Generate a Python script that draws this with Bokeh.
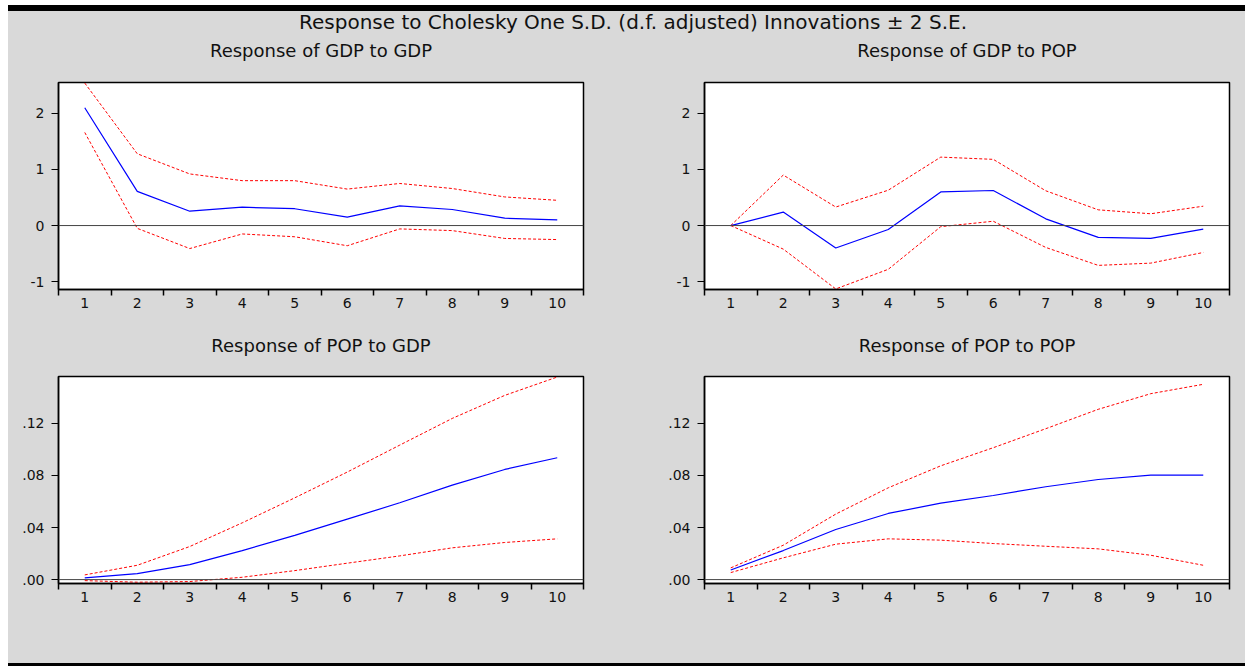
from bokeh.plotting import figure
from bokeh.models import Range1d, FixedTicker, Span, Label, Div, CustomJSTickFormatter
from bokeh.layouts import column, row
from bokeh.embed import file_html
from bokeh.resources import INLINE

# ---------------- data ----------------
periods = [1, 2, 3, 4, 5, 6, 7, 8, 9, 10]

gdp_to_gdp = [2.10, 0.61, 0.256, 0.327, 0.30, 0.149, 0.35, 0.286, 0.131, 0.10]
gdp_to_gdp_hi = [2.54, 1.28, 0.92, 0.80, 0.80, 0.65, 0.75, 0.66, 0.51, 0.45]
gdp_to_gdp_lo = [1.66, -0.05, -0.41, -0.15, -0.20, -0.36, -0.06, -0.09, -0.23, -0.25]

gdp_to_pop = [0.0, 0.24, -0.40, -0.07, 0.60, 0.625, 0.12, -0.21, -0.23, -0.065]
gdp_to_pop_hi = [0.0, 0.90, 0.33, 0.63, 1.22, 1.18, 0.62, 0.28, 0.21, 0.345]
gdp_to_pop_lo = [0.0, -0.42, -1.13, -0.78, -0.02, 0.077, -0.39, -0.71, -0.67, -0.48]

pop_to_gdp = [0.0013, 0.0046, 0.0115, 0.0223, 0.034, 0.0464, 0.059, 0.0726, 0.0846, 0.0936]
pop_to_gdp_hi = [0.0036, 0.011, 0.0254, 0.0436, 0.0628, 0.0826, 0.1033, 0.1238, 0.1415, 0.1556]
pop_to_gdp_lo = [-0.0008, -0.002, -0.0015, 0.0018, 0.0069, 0.0126, 0.0182, 0.0244, 0.0285, 0.0313]

pop_to_pop = [0.0074, 0.0223, 0.0385, 0.0508, 0.0587, 0.0646, 0.0713, 0.0769, 0.0803, 0.0803]
pop_to_pop_hi = [0.009, 0.0264, 0.0503, 0.0705, 0.0874, 0.1013, 0.1159, 0.1308, 0.1428, 0.150]
pop_to_pop_lo = [0.0054, 0.0167, 0.0272, 0.0313, 0.0303, 0.0277, 0.0256, 0.0236, 0.0187, 0.011]

main_title = "Response to Cholesky One S.D. (d.f. adjusted) Innovations \u00b1 2 S.E."
titles = ["Response of GDP to GDP", "Response of GDP to POP",
          "Response of POP to GDP", "Response of POP to POP"]
gdp_yticks = [-1, 0, 1, 2]
pop_yticks = [0.0, 0.04, 0.08, 0.12]

# ---------------- styling ----------------
GREY = "#d9d9d9"
FONT = "DejaVu Sans"
TOTAL_W = 1237
LW, RW = 632, 605
L_LEFT, L_RIGHT = 50, 57
R_LEFT, R_RIGHT = 64, 16
FRAME_W = 525
# title centres (pixels from the left of the layout) = frame centres
L_CX = L_LEFT + FRAME_W / 2
R_CX = LW + R_LEFT + FRAME_W / 2


def band(h):
    b = figure(width=TOTAL_W, height=h, x_range=Range1d(0, TOTAL_W), y_range=Range1d(0, h),
               toolbar_location=None, output_backend="svg",
               x_axis_location=None, y_axis_location=None, min_border=0,
               styles={"background-color": GREY})
    b.outline_line_color = None
    b.background_fill_color = GREY
    b.border_fill_color = GREY
    b.grid.visible = False
    return b


def add_text(b, x, y, txt, size):
    b.add_layout(Label(x=x, y=y, text=txt, text_align="center", text_baseline="middle",
                       text_font=FONT, text_font_size=size, text_color="#111111"))


def panel(resp, lo, hi, yr, yticks, w, left, right, h, top, bottom, dotfmt=False):
    p = figure(width=w, height=h, x_range=Range1d(0.5, 10.5), y_range=Range1d(*yr),
               toolbar_location=None, output_backend="svg",
               min_border_left=left, min_border_right=right,
               min_border_top=top, min_border_bottom=bottom,
               styles={"background-color": GREY})
    p.background_fill_color = "white"
    p.border_fill_color = GREY
    p.outline_line_color = "black"
    p.outline_line_width = 1.5
    p.grid.visible = False

    p.add_layout(Span(location=0, dimension="width", line_color="#444444", line_width=1))
    p.line(periods, hi, line_color="#ff0000", line_dash="3 2", line_width=1)
    p.line(periods, lo, line_color="#ff0000", line_dash="3 2", line_width=1)
    p.line(periods, resp, line_color="#0000ff", line_width=1.2)

    xa = p.xaxis[0]
    xa.ticker = FixedTicker(ticks=periods, minor_ticks=[k + 0.5 for k in range(0, 11)])
    xa.major_tick_out = 0
    xa.major_tick_in = 0
    xa.minor_tick_out = 6
    xa.minor_tick_in = 0
    xa.minor_tick_line_color = "black"
    xa.minor_tick_line_width = 1.5
    xa.axis_line_color = "black"
    xa.axis_line_width = 1.5
    xa.major_label_standoff = 2

    ya = p.yaxis[0]
    ya.ticker = FixedTicker(ticks=yticks, minor_ticks=[])
    ya.major_tick_out = 7
    ya.major_tick_in = 0
    ya.major_tick_line_color = "black"
    ya.axis_line_color = "black"
    ya.axis_line_width = 1.5
    ya.major_label_standoff = 7
    if dotfmt:
        ya.formatter = CustomJSTickFormatter(code="return tick.toFixed(2).replace(/^0/, '');")
    else:
        ya.formatter = CustomJSTickFormatter(code="return String(tick);")

    for ax in (xa, ya):
        ax.major_label_text_font = FONT
        ax.major_label_text_font_size = "14px"
        ax.major_label_text_color = "#111111"
    return p


# header band: main title + row-1 subtitles
hdr = band(55)
add_text(hdr, TOTAL_W / 2 + 6, 45, main_title, "20px")
add_text(hdr, L_CX, 16, titles[0], "18px")
add_text(hdr, R_CX, 16, titles[1], "18px")

p1 = panel(gdp_to_gdp, gdp_to_gdp_lo, gdp_to_gdp_hi, (-1.14, 2.55), gdp_yticks,
           LW, L_LEFT, L_RIGHT, 259, 16, 36)
p2 = panel(gdp_to_pop, gdp_to_pop_lo, gdp_to_pop_hi, (-1.14, 2.55), gdp_yticks,
           RW, R_LEFT, R_RIGHT, 259, 16, 36)

# middle band: row-2 subtitles
mid = band(36)
add_text(mid, L_CX, 16, titles[2], "18px")
add_text(mid, R_CX, 16, titles[3], "18px")

p3 = panel(pop_to_gdp, pop_to_gdp_lo, pop_to_gdp_hi, (-0.003, 0.156), pop_yticks,
           LW, L_LEFT, L_RIGHT, 259, 15, 37, dotfmt=True)
p4 = panel(pop_to_pop, pop_to_pop_lo, pop_to_pop_hi, (-0.003, 0.156), pop_yticks,
           RW, R_LEFT, R_RIGHT, 259, 15, 37, dotfmt=True)

top_bar = Div(width=TOTAL_W, height=6, margin=0, styles={"background-color": "black"})
bottom_fill = Div(width=TOTAL_W, height=43, margin=0, styles={"background-color": GREY})
bottom_bar = Div(width=TOTAL_W, height=3, margin=0, styles={"background-color": "black"})

row1 = row(p1, p2, spacing=0, styles={"background-color": GREY})
row2 = row(p3, p4, spacing=0, styles={"background-color": GREY})
layout = column(top_bar, hdr, row1, mid, row2, bottom_fill, bottom_bar, spacing=0,
                margin=(5, 0, 0, 8), styles={"background-color": GREY})

open("out.html", "w").write(file_html(layout, INLINE))
